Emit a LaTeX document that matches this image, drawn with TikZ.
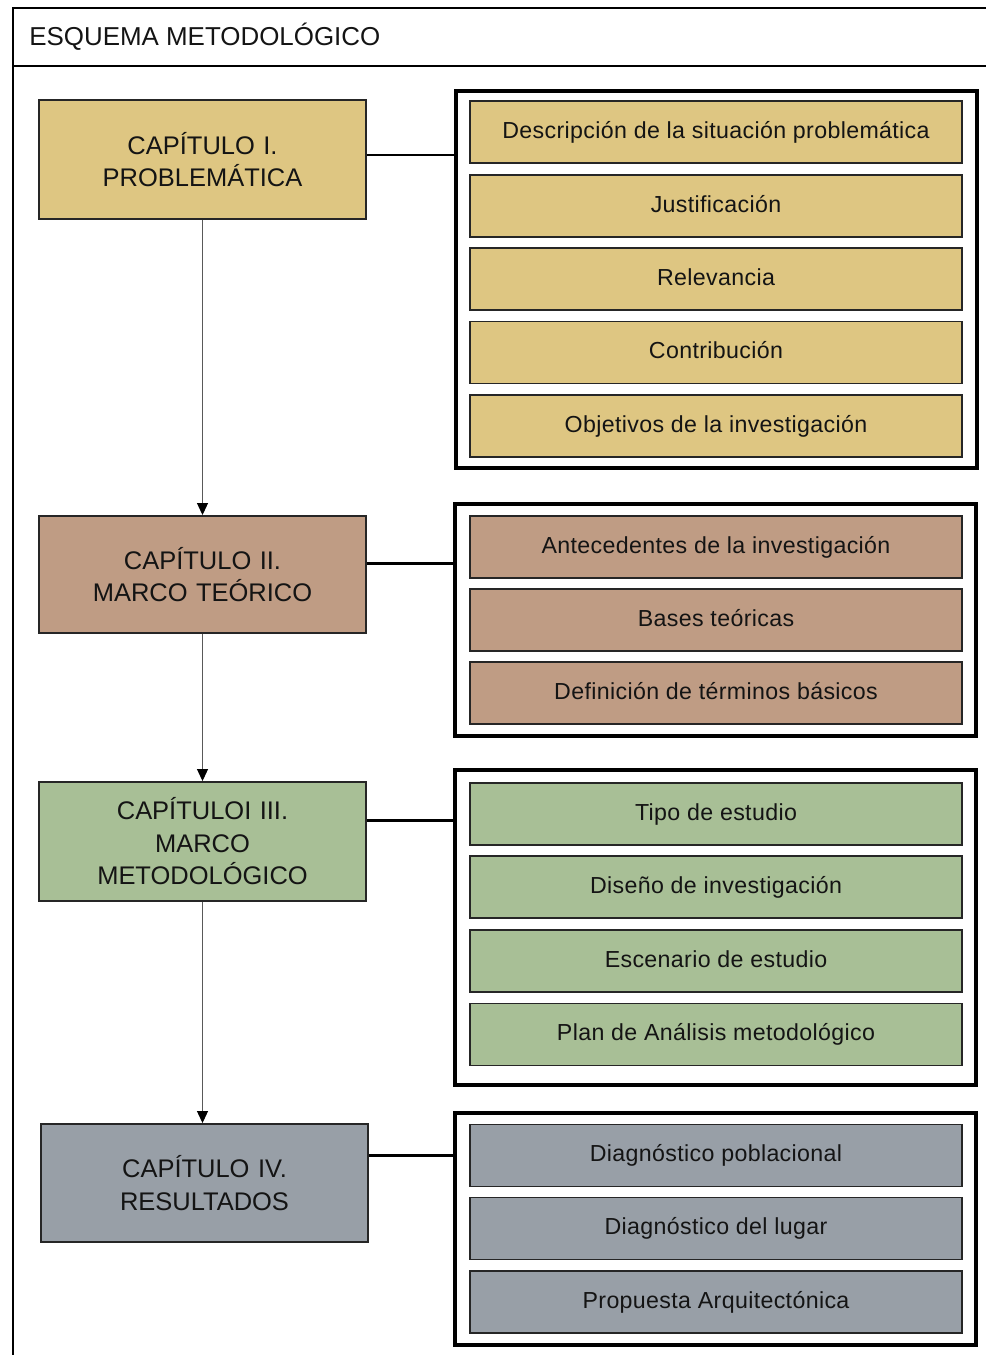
\documentclass[tikz,border=0pt]{standalone}
\usepackage{fontspec}
\setmainfont{Liberation Sans}
\newfontfamily\itemfont{Liberation Sans}[LetterSpace=1.5]
\usetikzlibrary{arrows.meta}
\definecolor{cy}{RGB}{222,198,130}
\definecolor{cb}{RGB}{191,156,132}
\definecolor{cg}{RGB}{168,191,150}
\definecolor{cs}{RGB}{152,159,167}
\definecolor{tx}{RGB}{20,20,20}
\begin{document}
\begin{tikzpicture}[x=0.02cm,y=-0.02cm,
  chap/.style={draw=black!85,line width=1.1pt,minimum width=6.54cm,text width=6.2cm,align=center,
    font=\fontsize{14.5}{18.5}\selectfont,text=tx,inner sep=0pt},
  item/.style={draw=black!85,line width=1.1pt,minimum width=9.84cm,minimum height=1.24cm,
    font=\itemfont\fontsize{13.2}{15}\selectfont,text=tx,inner sep=0pt,
    text height=0.85em,text depth=0.16em},
  group/.style={draw=black,line width=1.8pt,minimum width=10.42cm,inner sep=0pt},
  conn/.style={line width=1.7pt},
  arr/.style={draw=black!65,line width=0.6pt,-{Triangle[width=0.22cm,length=0.24cm,color=black]}},
  frame/.style={line width=1.2pt}]
\useasboundingbox (0,0) rectangle (986,1355);
% frame
\draw[frame] (13,1355) -- (13,8) -- (986,8);
\draw[frame] (13,66) -- (986,66);
\node[anchor=west,font=\fontsize{14.75}{17}\selectfont,text=tx,inner sep=0pt] (title) at (29,37) {ESQUEMA METODOLÓGICO};

% chapters
\node[chap,fill=cy,minimum height=2.38cm] (ch1) at (202.5,159.5) {CAPÍTULO I.\\PROBLEMÁTICA};
\node[chap,fill=cb,minimum height=2.34cm] (ch2) at (202.5,574.5) {CAPÍTULO II.\\MARCO TEÓRICO};
\node[chap,fill=cg,minimum height=2.38cm] (ch3) at (202.5,841.5) {CAPÍTULOI III.\\MARCO\\METODOLÓGICO};
\node[chap,fill=cs,minimum height=2.36cm] (ch4) at (204.5,1183) {CAPÍTULO IV.\\RESULTADOS};

% groups
\node[group,minimum height=7.54cm] (g1) at (716.5,279.5) {};
\node[group,minimum height=4.64cm] (g2) at (715.5,620) {};
\node[group,minimum height=6.3cm] (g3) at (715.5,927.5) {};
\node[group,minimum height=4.64cm] (g4) at (715.5,1229) {};

% items
\node[item,fill=cy] (a1) at (716,132) {Descripción de la situación problemática};
\node[item,fill=cy] (a2) at (716,206) {Justificación};
\node[item,fill=cy] (a3) at (716,279) {Relevancia};
\node[item,fill=cy] (a4) at (716,352.5) {Contribución};
\node[item,fill=cy] (a5) at (716,426) {Objetivos de la investigación};

\node[item,fill=cb] (b1) at (716,547) {Antecedentes de la investigación};
\node[item,fill=cb] (b2) at (716,620) {Bases teóricas};
\node[item,fill=cb] (b3) at (716,693) {Definición de términos básicos};

\node[item,fill=cg] (c1) at (716,814) {Tipo de estudio};
\node[item,fill=cg] (c2) at (716,887) {Diseño de investigación};
\node[item,fill=cg] (c3) at (716,961) {Escenario de estudio};
\node[item,fill=cg] (c4) at (716,1034.5) {Plan de Análisis metodológico};

\node[item,fill=cs] (d1) at (716,1155.5) {Diagnóstico poblacional};
\node[item,fill=cs] (d2) at (716,1228.5) {Diagnóstico del lugar};
\node[item,fill=cs] (d3) at (716,1302) {Propuesta Arquitectónica};

% horizontal connectors
\coordinate (h1) at ([yshift=0.09cm]ch1.east);
\coordinate (h2) at ([yshift=0.23cm]ch2.east);
\coordinate (h3) at ([yshift=0.43cm]ch3.east);
\coordinate (h4) at ([yshift=0.56cm]ch4.east);
\draw[conn] (h1) -- (h1 -| g1.west);
\draw[conn] (h2) -- (h2 -| g2.west);
\draw[conn] (h3) -- (h3 -| g3.west);
\draw[conn] (h4) -- (h4 -| g4.west);

% vertical arrows
\draw[arr] (ch1.south) -- (ch2.north);
\draw[arr] (ch2.south) -- (ch3.north);
\draw[arr] (ch3.south) -- (ch3.south |- ch4.north);
\end{tikzpicture}
\end{document}
